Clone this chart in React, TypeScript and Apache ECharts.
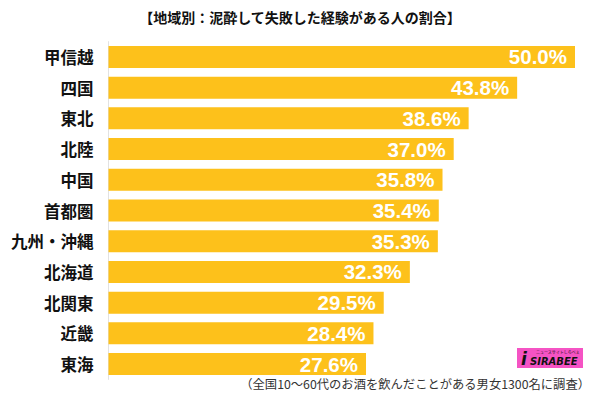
import React, { useEffect, useRef } from "react";
import * as echarts from "echarts";

const categories = ["甲信越", "四国", "東北", "北陸", "中国", "首都圏", "九州・沖縄", "北海道", "北関東", "近畿", "東海"];
const values = [50.0, 43.8, 38.6, 37.0, 35.8, 35.4, 35.3, 32.3, 29.5, 28.4, 27.6];
const titleText = "【地域別：泥酔して失敗した経験がある人の割合】";
const noteText = "（全国10〜60代のお酒を飲んだことがある男女1300名に調査）";

const FONT = "'Noto Sans CJK JP', 'Noto Sans', sans-serif";

export default function App() {
  const ref = useRef<HTMLDivElement>(null);
  useEffect(() => {
    if (!ref.current) return;
    const chart = echarts.init(ref.current, null, { renderer: "svg" });
    chart.setOption({
      animation: false,
      backgroundColor: "#ffffff",
      title: {
        text: titleText,
        left: "center",
        top: 5,
        textStyle: { fontFamily: FONT, fontSize: 14, fontWeight: "bold", color: "#111" },
      },
      grid: { left: 108.5, right: 25, top: 41.6, bottom: 20.6, containLabel: false },
      xAxis: {
        type: "value",
        min: 0,
        max: 50,
        show: false,
      },
      yAxis: {
        type: "category",
        data: categories,
        inverse: true,
        axisLine: { show: true, lineStyle: { color: "#e2e2e2", width: 1 } },
        axisTick: { show: false },
        axisLabel: {
          margin: 15,
          fontFamily: FONT,
          fontSize: 16.5,
          fontWeight: "bold",
          color: "#111",
        },
      },
      series: [
        {
          type: "bar",
          data: values,
          barWidth: 22,
          itemStyle: { color: "#FDC11B" },
          label: {
            show: true,
            position: "insideRight",
            distance: 8,
            formatter: (p: any) => p.value.toFixed(1) + "%",
            fontFamily: "'Liberation Sans', Arial, sans-serif",
            fontSize: 20.5,
            fontWeight: "bold",
            color: "#ffffff",
          },
        },
      ],
      graphic: [
        {
          type: "rect",
          shape: { x: 517, y: 348, width: 66, height: 20 },
          style: { fill: "#F553C4" },
        },
        {
          type: "text",
          x: 521,
          y: 350,
          style: { text: "i", fontFamily: "DejaVu Sans", fontSize: 17, fontWeight: "bold", fontStyle: "italic", fill: "#111" },
        },
        {
          type: "text",
          x: 536,
          y: 350,
          style: { text: "ニュースサイトしらべぇ", fontFamily: FONT, fontSize: 4, fill: "#111" },
        },
        {
          type: "text",
          x: 530,
          y: 356,
          style: { text: "SIRABEE", fontFamily: "DejaVu Sans", fontSize: 10, fontWeight: "bold", fontStyle: "italic", fill: "#111" },
        },
        {
          type: "text",
          right: 10,
          top: 378,
          style: { text: noteText, fontFamily: FONT, fontSize: 12.3, fill: "#333" },
        },
      ],
    });
    return () => chart.dispose();
  }, []);
  return <div ref={ref} style={{ width: 600, height: 400, position: "absolute", left: 0, top: 0 }} />;
}
